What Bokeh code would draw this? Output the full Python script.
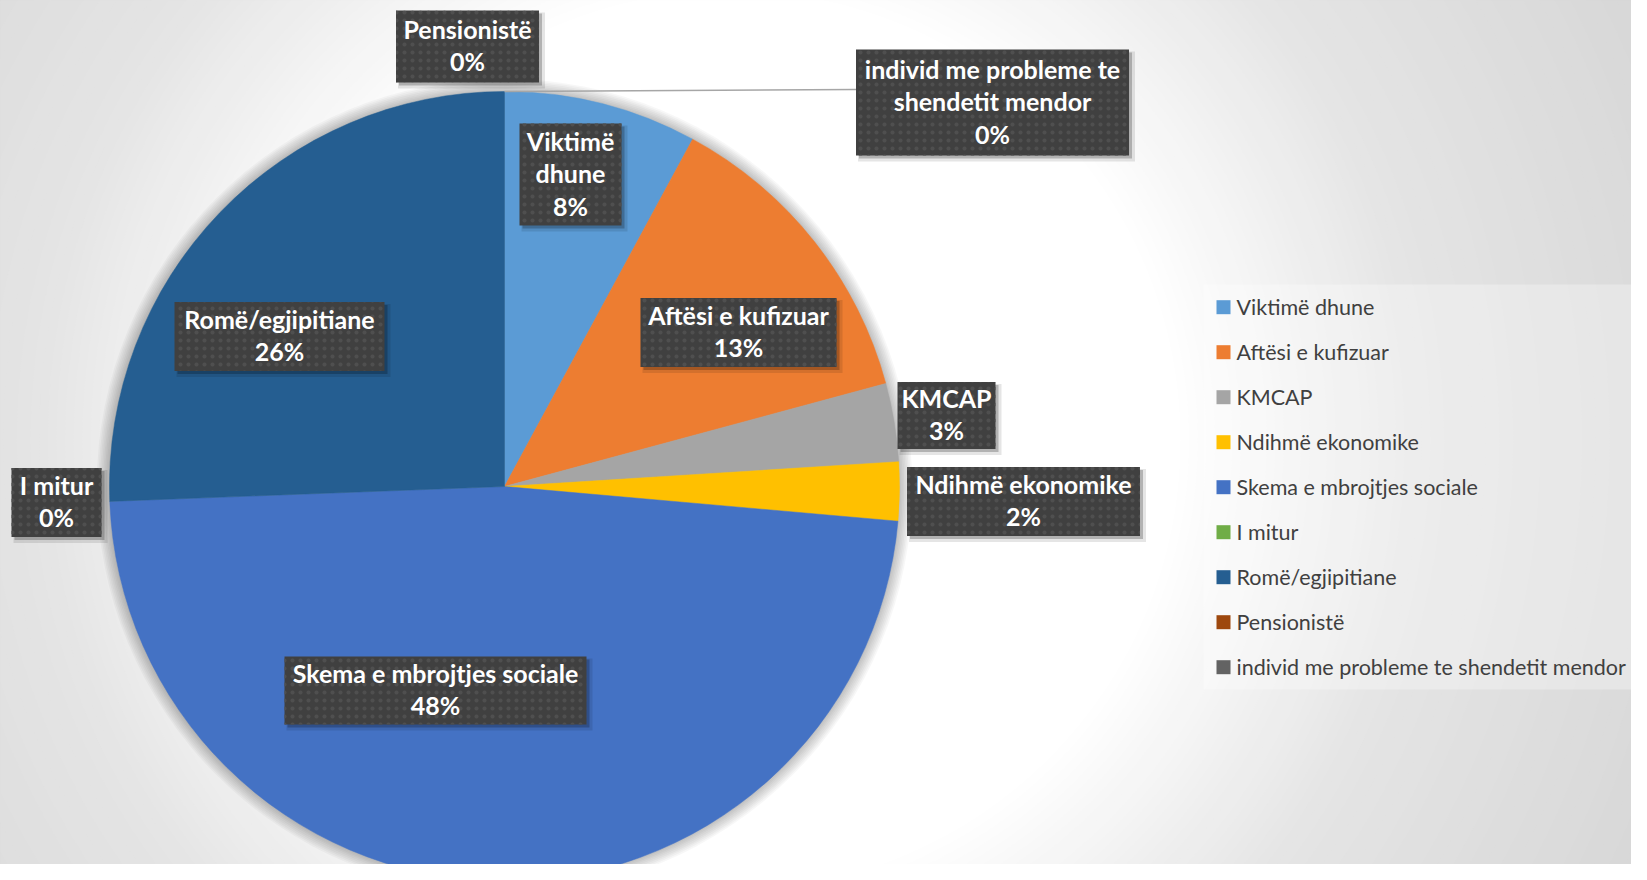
import numpy as np
from bokeh.plotting import figure
from bokeh.models import Range1d, ColumnDataSource
from bokeh.core.properties import value
from bokeh.embed import file_html
from bokeh.resources import INLINE

# ---------------- data ----------------
categories = ["Viktimë dhune", "Aftësi e kufizuar", "KMCAP", "Ndihmë ekonomike",
              "Skema e mbrojtjes sociale", "I mitur", "Romë/egjipitiane",
              "Pensionistë", "individ me probleme te shendetit mendor"]
values = [7.9, 12.9, 3.2, 2.4, 48.0, 0.0, 25.6, 0.0, 0.0]
colors = ["#5B9BD5", "#ED7D31", "#A5A5A5", "#FFC000", "#4472C4",
          "#70AD47", "#255E91", "#9E480E", "#636363"]

# label line breaks (layout)
label_wrap = {"Viktimë dhune": ["Viktimë", "dhune"],
              "individ me probleme te shendetit mendor": ["individ me probleme te", "shendetit mendor"]}

# label box layout (page pixels): centre x, centre y, width, height
label_cx = [570, 738, 946, 1023, 435, 56, 279, 467, 992]
label_cy = [174, 332, 415, 501, 690, 502, 336, 46, 102]
label_w = [102, 196, 98, 233, 302, 90, 210, 143, 273]
label_h = [102, 69, 67, 69, 68, 69, 69, 72, 106]

# ---------------- layout ----------------
W, H = 1631, 864
CX, CY, R = 504, 486, 395
LINE = 32.5

p = figure(width=W, height=H, x_range=Range1d(0, W), y_range=Range1d(-H, 0),
           output_backend="svg", toolbar_location=None, min_border=0,
           x_axis_location=None, y_axis_location=None)
p.grid.visible = False
p.outline_line_color = None
p.background_fill_color = "#d4d4d4"
p.border_fill_color = "#d4d4d4"

# radial background gradient (piecewise)
gx, gy = 730, 440
r1 = np.linspace(1100, 700, 30)
l1 = np.linspace(0xd4, 0xe5, 30)
r2 = np.linspace(700, 450, 30)
l2 = np.linspace(0xe5, 0xff, 30)
radii = np.concatenate([r1, r2])
levels = np.concatenate([l1, l2])
gcols = ["#%02x%02x%02x" % (int(l), int(l), int(l)) for l in levels]
p.circle(x=[gx] * len(radii), y=[-gy] * len(radii), radius=list(radii), fill_color=gcols, line_color=None)

# soft halo around pie
for k in range(1, 9):
    p.circle(x=[CX], y=[-CY], radius=R + k * 1.6, fill_color="black", fill_alpha=0.03, line_color=None)

# pie wedges
total = sum(values)
cum = np.concatenate([[0], np.cumsum(values)])
starts, ends, cols = [], [], []
for i, v in enumerate(values):
    if v <= 0:
        continue
    a_hi = np.pi / 2 - 2 * np.pi * cum[i] / total
    a_lo = np.pi / 2 - 2 * np.pi * cum[i + 1] / total
    starts.append(a_lo)
    ends.append(a_hi)
    cols.append(colors[i])
src = ColumnDataSource(dict(s=starts, e=ends, c=cols))
p.wedge(x=CX, y=-CY, radius=R, start_angle="s", end_angle="e", fill_color="c",
        line_color="c", line_width=0.5, source=src)

# leader line for the last label
li = len(categories) - 1
p.line([CX, label_cx[li] - label_w[li] / 2], [-(CY - R), -(CY - R) + 2], line_color="#a6a6a6", line_width=1.6)

# label boxes
ly = [-y for y in label_cy]
p.rect(x=[x + 4 for x in label_cx], y=[y - 4 for y in ly], width=[w + 4 for w in label_w],
       height=[h + 4 for h in label_h], fill_color="black", fill_alpha=0.10, line_color=None)
p.rect(x=[x + 3 for x in label_cx], y=[y - 3 for y in ly], width=label_w, height=label_h,
       fill_color="black", fill_alpha=0.22, line_color=None)
p.rect(x=label_cx, y=ly, width=label_w, height=label_h, fill_color="#404040",
       hatch_pattern="dot", hatch_color="#4f4f4f", hatch_scale=8, hatch_weight=1.6,
       line_color=None)

tx, ty, tt = [], [], []
for c, v, x, y in zip(categories, values, label_cx, ly):
    lines = label_wrap.get(c, [c]) + [f"{round(v):.0f}%"]
    k = len(lines)
    for j, s in enumerate(lines):
        tx.append(x)
        ty.append(y + 1.5 - (j - (k - 1) / 2) * LINE)
        tt.append(s)
p.text(x=tx, y=ty, text=tt, text_align="center", text_baseline="middle",
       text_color="white", text_font=value("Lato"), text_font_style="bold",
       text_font_size="25px")

# legend
lg_x0, lg_y0, lg_step = 1216, 306.7, 45
p.rect(x=[1203 + 250], y=[-(284 + 689) / 2], width=500, height=689 - 284,
       fill_color="white", fill_alpha=0.3, line_color=None)
ys = [-(lg_y0 + i * lg_step) for i in range(len(categories))]
p.rect(x=[lg_x0 + 7] * len(categories), y=ys, width=14, height=14, fill_color=colors, line_color=None)
p.text(x=[lg_x0 + 20] * len(categories), y=ys, text=categories, text_align="left", text_baseline="middle",
       text_color="#404040", text_font=value("Lato"), text_font_size="21.5px")

open("out.html", "w").write(file_html(p, INLINE))
